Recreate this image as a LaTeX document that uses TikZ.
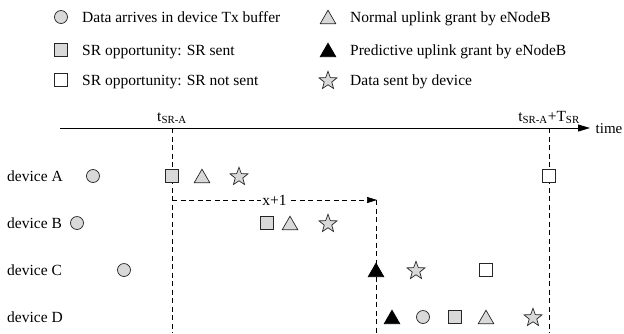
\documentclass[tikz,border=0pt]{standalone}
\usepackage{fontspec}
\setmainfont{Liberation Serif}
\usetikzlibrary{shapes.geometric,arrows.meta}
\begin{document}
\begin{tikzpicture}[x=1pt,y=-1pt,
  every node/.style={font=\fontsize{15.5}{18}\selectfont},
  sym/.style={draw=black!85, line width=0.7pt, inner sep=0pt, outer sep=0pt},
  circ/.style={sym, circle, fill=gray!30, minimum size=13pt},
  sqsent/.style={sym, rectangle, fill=gray!30, minimum size=13pt},
  sqnot/.style={sym, rectangle, fill=white, minimum size=13pt},
  tri/.style={sym, regular polygon, regular polygon sides=3, fill=gray!30, minimum size=18pt, yshift=-2.2pt},
  btri/.style={tri, fill=black, draw=black},
  starx/.style={sym, star, star points=5, star point ratio=2.4, fill=gray!30, minimum size=19pt, yshift=-0.8pt},
  lbl/.style={anchor=base west, inner sep=0pt},
  tlbl/.style={anchor=base, inner sep=0pt},
  vdash/.style={line width=0.7pt, dash pattern=on 5pt off 3.5pt},
  axis/.style={line width=0.8pt, -{Triangle[length=12pt,width=7pt]}},
]
\useasboundingbox (0,0) rectangle (624,333);

% ---------- legend ----------
\node[circ]   (lg1) at (61,17) {};
\node[lbl]    (lt1) at (82,22) {Data arrives in device Tx buffer};
\node[sqsent] (lg2) at (61,50) {};
\node[lbl]    (lt2) at (82,55) {SR opportunity: SR sent};
\node[sqnot]  (lg3) at (61,80) {};
\node[lbl]    (lt3) at (82,85) {SR opportunity: SR not sent};
\node[tri]    (lg4) at (328,17) {};
\node[lbl]    (lt4) at (350,22) {Normal uplink grant by eNodeB};
\node[btri]   (lg5) at (328,50) {};
\node[lbl]    (lt5) at (350,55) {Predictive uplink grant by eNodeB};
\node[starx]  (lg6) at (328,80) {};
\node[lbl]    (lt6) at (350,85) {Data sent by device};

% ---------- time axis ----------
\coordinate (ax0) at (60,128);
\coordinate (ax1) at (590,128);
\draw[axis] (ax0) -- (ax1);
\node[lbl, font=\fontsize{15}{18}\selectfont] (time) at (595.5,133) {time};
\node[tlbl] (t1) at (172,121) {t\textsubscript{SR-A}};
\node[tlbl] (t2) at (549,121) {t\textsubscript{SR-A}+T\textsubscript{SR}};

% ---------- dashed guides ----------
\coordinate (v1t) at (172,128);
\coordinate (v1b) at (172,333);
\coordinate (v2t) at (549,128);
\coordinate (v2b) at (549,333);
\coordinate (arrS) at (172,200);
\coordinate (arrE) at (377,200);
\coordinate (v3t) at (376,200);
\coordinate (v3b) at (376,333);
\draw[vdash] (v1t) -- (v1b);
\draw[vdash] (v2t) -- (v2b);
\draw[vdash] (v3t) -- (v3b);
\draw[vdash, -{Triangle[length=10pt,width=6pt]}] (arrS) -- node[midway, fill=white, inner sep=1.2pt] (xlbl) {x+1} (arrE);

% ---------- device labels ----------
\node[lbl] (dA) at (7,181) {device A};
\node[lbl] (dB) at (7,228) {device B};
\node[lbl] (dC) at (7,275) {device C};
\node[lbl] (dD) at (7,322) {device D};

% ---------- device A ----------
\node[circ]   (a1) at (93,176) {};
\node[sqsent] (a2) at (172,176) {};
\node[tri]    (a3) at (202,176) {};
\node[starx]  (a4) at (239,176) {};
\node[sqnot]  (a5) at (549,176) {};

% ---------- device B ----------
\node[circ]   (b1) at (77,223) {};
\node[sqsent] (b2) at (267,223) {};
\node[tri]    (b3) at (290,223) {};
\node[starx]  (b4) at (328,223) {};

% ---------- device C ----------
\node[circ]   (c1) at (124,270) {};
\node[btri]   (c2) at (376,270) {};
\node[starx]  (c3) at (416,270) {};
\node[sqnot]  (c4) at (486,270) {};

% ---------- device D ----------
\node[btri]   (d1) at (392,317) {};
\node[circ]   (d2) at (423,317) {};
\node[sqsent] (d3) at (455,317) {};
\node[tri]    (d4) at (486,317) {};
\node[starx]  (d5) at (533,317) {};
\end{tikzpicture}
\end{document}
